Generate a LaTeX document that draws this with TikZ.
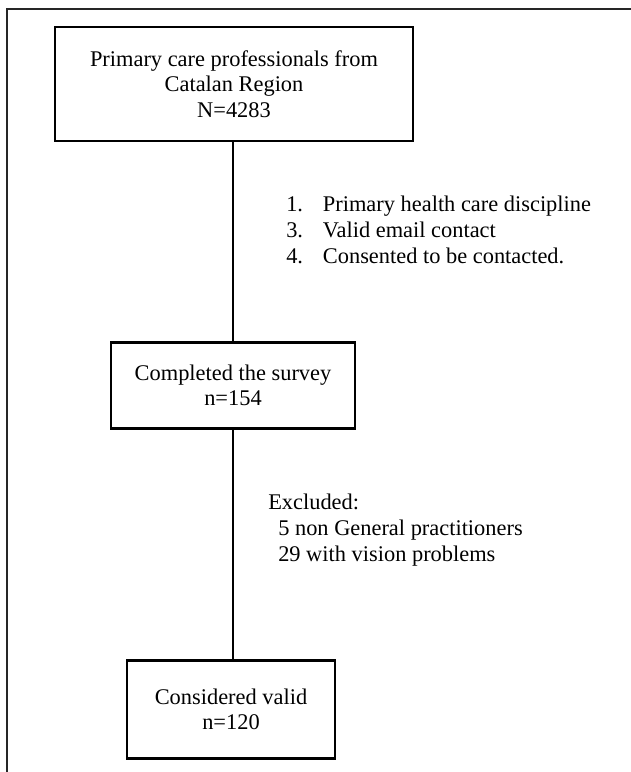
\documentclass[tikz,border=0pt]{standalone}
\usepackage{fontspec}
\setmainfont{Liberation Serif}
\begin{document}
\begin{tikzpicture}[x=0.75pt, y=-0.75pt,
    caja/.style={draw, line width=2.2pt, align=center, inner sep=0pt,
        font=\fontsize{16.8}{19.2}\selectfont},
    linea/.style={line width=2.2pt},
    texto/.style={anchor=west, align=left, inner sep=0pt,
        font=\fontsize{16.8}{19.6}\selectfont}]
    \useasboundingbox (0,0) rectangle (631,772);

    % Marco
    \draw[line width=1.5pt, black!85] (7,772) -- (7,8.5) -- (631,8.5);

    % Cajas
    \node[caja, minimum width=268.5pt, minimum height=85.5pt] (poblacion) at (234,84)
        {Primary care professionals from\\Catalan Region\\N=4283};
    \node[caja, minimum width=183pt, minimum height=65pt] (encuesta) at (233,385.5)
        {Completed the survey\\n=154};
    \node[caja, minimum width=156pt, minimum height=73pt] (valido) at (231,709.5)
        {Considered valid\\n=120};

    % Lineas
    \draw[linea] (poblacion.south -| encuesta) -- (encuesta.north);
    \draw[linea] (encuesta.south) -- (encuesta.south |- valido.north);

    % Criterios
    \node[texto] (criterios) at (286,232) {%
        \begin{tabular}{@{}p{27.5pt}@{}l@{}}
        1. & Primary health care discipline\\
        3. & Valid email contact\\
        4. & Consented to be contacted.
        \end{tabular}};
    \node[texto] (excluidos) at (268,530)
        {Excluded:\\\hspace*{7.5pt}5 non General practitioners\\\hspace*{7.5pt}29 with vision problems};
\end{tikzpicture}
\end{document}
